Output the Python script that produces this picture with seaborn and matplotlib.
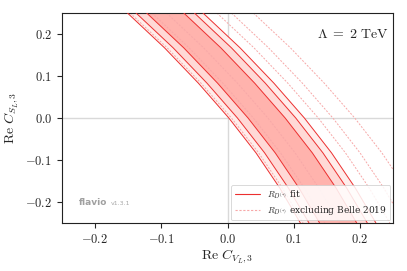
import numpy as np
import pandas as pd
import matplotlib
matplotlib.use("Agg")
import matplotlib.pyplot as plt
import seaborn as sns
from matplotlib.lines import Line2D

# --- data ---
c_sl = [0.25, 0.167, 0.083, 0.0, -0.083, -0.167, -0.25]
fit_center = [-0.094, -0.038, 0.013, 0.059, 0.100, 0.136, 0.167]
fit_halfwidths = [0.028, 0.044, 0.057]          # 1, 2, 3 sigma
belle_center = [-0.054, 0.002, 0.053, 0.099, 0.140, 0.176, 0.207]
belle_halfwidths = [0.038, 0.060, 0.093]       # 1, 2, 3 sigma
ticks = [-0.2, -0.1, 0.0, 0.1, 0.2]
tick_labels = ["$-0.2$", "$-0.1$", "$0.0$", "$0.1$", "$0.2$"]

sns.set_style("ticks")
plt.rcParams["mathtext.fontset"] = "cm"
plt.rcParams["font.family"] = ["DejaVu Serif"]

fig = plt.figure(figsize=(4.07, 2.71), dpi=100)
ax = fig.add_axes([0.152, 0.177, 0.814, 0.775])

red = "#ec2f2f"
pink = "#f7a8a8"
fill_cols = ["#ffb3ad", "#ffd9d6", "#ffedeb"]

y = np.array(c_sl)
fc = np.array(fit_center)

# filled fit regions (outer first)
for hw, col in zip(fit_halfwidths[::-1], fill_cols[::-1]):
    ax.fill_betweenx(y, fc - hw, fc + hw, color=col, lw=0, zorder=1)

rows = []
for i, hw in enumerate(fit_halfwidths):
    for side, s in (("l", -1), ("r", 1)):
        for yy, cc in zip(c_sl, fit_center):
            rows.append(dict(x=cc + s * hw, y=yy, curve=f"fit{i}{side}"))
df_fit = pd.DataFrame(rows)
sns.lineplot(data=df_fit, x="x", y="y", units="curve", estimator=None,
             sort=False, color=red, lw=0.7, ax=ax, zorder=3)

rows = []
for i, hw in enumerate(belle_halfwidths):
    for side, s in (("l", -1), ("r", 1)):
        for yy, cc in zip(c_sl, belle_center):
            rows.append(dict(x=cc + s * hw, y=yy, curve=f"b{i}{side}"))
df_b = pd.DataFrame(rows)
sns.lineplot(data=df_b, x="x", y="y", units="curve", estimator=None,
             sort=False, color=pink, lw=0.7, ls=(0, (2, 1.5)), ax=ax, zorder=2)

ax.axvline(0, color="#d9d9d9", lw=1.0, zorder=0.5)
ax.axhline(0, color="#d9d9d9", lw=1.0, zorder=0.5)

ax.set_xlim(-0.25, 0.25)
ax.set_ylim(-0.25, 0.25)
ax.set_xticks(ticks)
ax.set_xticklabels(tick_labels)
ax.set_yticks(ticks)
ax.set_yticklabels(tick_labels)
ax.tick_params(labelsize=9, length=3.5, width=0.8, direction="out")
for sp in ax.spines.values():
    sp.set_linewidth(0.8)
    sp.set_color("#222222")

ax.set_xlabel(r"$\mathrm{Re}\ C_{V_L,3}$", fontsize=10, labelpad=1)
ax.set_ylabel(r"$\mathrm{Re}\ C_{S_L,3}$", fontsize=10, labelpad=4)

ax.text(0.985, 0.9, r"$\Lambda\;=\;2\ \mathrm{TeV}$", transform=ax.transAxes,
        ha="right", va="center", fontsize=10)

ax.text(0.05, 0.1, "flavio", transform=ax.transAxes, ha="left", va="center",
        fontsize=6.5, color="#a0a0a0", fontweight="bold", family="DejaVu Sans")
ax.text(0.148, 0.095, "v1.3.1", transform=ax.transAxes, ha="left", va="center",
        fontsize=4.5, color="#a8a8a8", family="DejaVu Sans")

handles = [Line2D([], [], color=red, lw=0.8),
           Line2D([], [], color=pink, lw=0.8, ls=(0, (2, 1.5)))]
labels = [r"$R_{D^{(*)}}$ fit", r"$R_{D^{(*)}}$ excluding Belle 2019"]
leg = ax.legend(handles, labels, loc="lower right", fontsize=6.5,
                frameon=True, fancybox=True, framealpha=0.85,
                borderpad=0.4, handlelength=2.8, labelspacing=0.3,
                borderaxespad=0.3)
leg.get_frame().set_linewidth(0.6)
leg.get_frame().set_edgecolor("#cccccc")

fig.savefig("out.png", dpi=100)
